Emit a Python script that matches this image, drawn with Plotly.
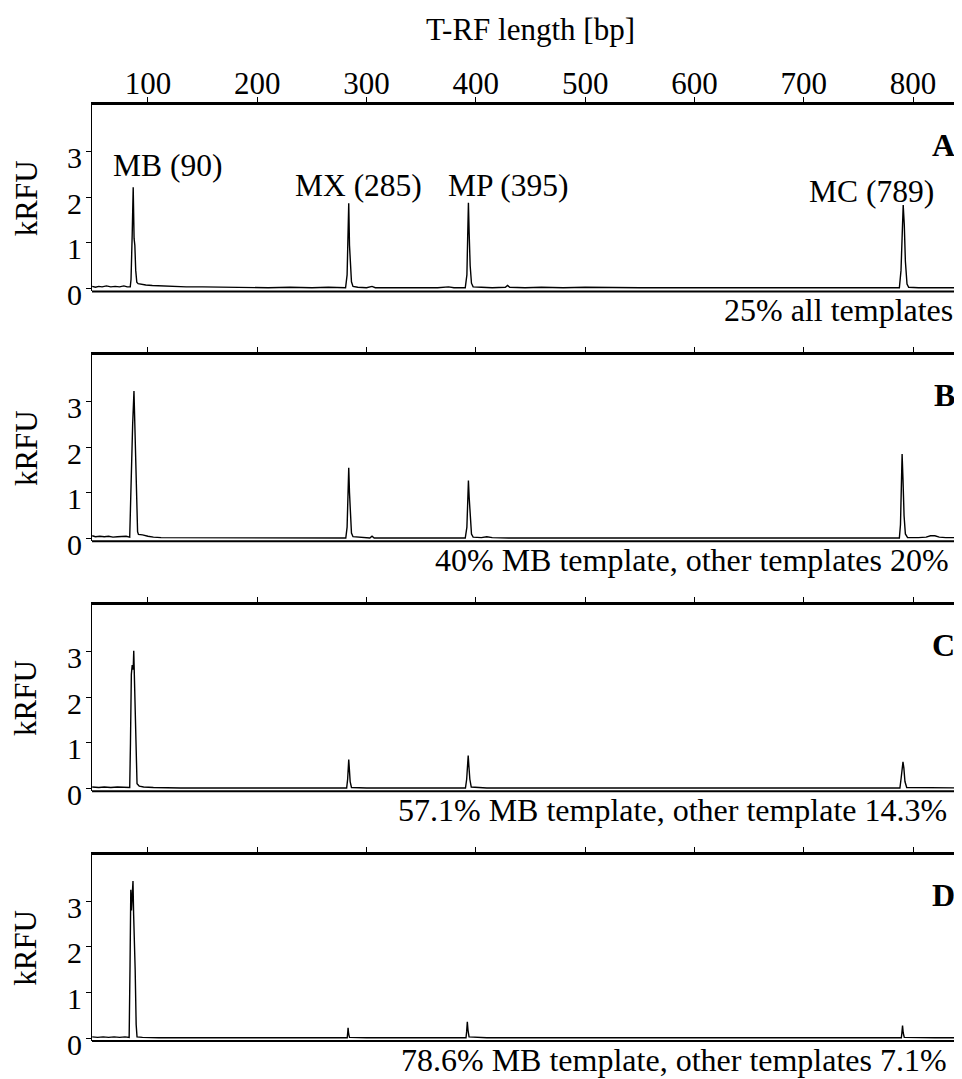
import plotly.graph_objects as go
from plotly.subplots import make_subplots

# ---------------- data ----------------
panel_letters = ["A", "B", "C", "D"]
panel_notes = ["25% all templates",
               "40% MB template, other templates 20%",
               "57.1% MB template, other template 14.3%",
               "78.6% MB template, other templates 7.1%"]
peak_names = ["MB (90)", "MX (285)", "MP (395)", "MC (789)"]
peak_label_bp = [117.8, 292.4, 429.0, 762.3]
peak_label_kRFU = [2.70, 2.26, 2.26, 2.12]

x_ticks = [100, 200, 300, 400, 500, 600, 700, 800]
y_ticks = [0, 1, 2, 3]

a_bp = [49, 52, 55, 58, 62, 66, 70, 74, 78, 81, 83.8,
        84.5, 85.6, 86.5, 87.3, 88.0, 88.8, 89.8, 91, 94, 98, 104, 112, 122, 135, 150, 170, 190, 210, 230, 250, 265, 275, 280.8,
        282.2, 283.0, 283.7, 284.4, 285.2, 286.2, 287.6, 292, 300, 305, 308, 320, 335, 350, 365, 375, 380, 390.3,
        391.8, 392.5, 393.2, 393.9, 394.8, 396, 397.5, 405, 415, 427, 429, 431, 445, 460, 480, 500, 520, 550, 580, 610, 640, 670, 700, 730, 760, 787.5,
        789, 790, 791, 792, 793, 794.5, 796, 805, 820, 845]
a_kRFU = [0.05, 0.03, 0.05, 0.04, 0.06, 0.04, 0.05, 0.04, 0.06, 0.04, 0.04,
          0.2, 1.2, 2.22, 1.1, 0.95, 0.4, 0.14, 0.11, 0.09, 0.08, 0.07, 0.06, 0.05, 0.04, 0.04, 0.03, 0.03, 0.02, 0.03, 0.02, 0.03, 0.02, 0.02,
          0.3, 1.1, 1.87, 0.95, 0.5, 0.15, 0.05, 0.03, 0.02, 0.05, 0.02, 0.02, 0.03, 0.02, 0.02, 0.04, 0.02, 0.02,
          0.3, 1.1, 1.88, 1.2, 0.5, 0.12, 0.04, 0.03, 0.02, 0.03, 0.07, 0.03, 0.02, 0.03, 0.02, 0.03, 0.02, 0.02, 0.02, 0.02, 0.01, 0.02, 0.02, 0.01, 0.02, 0.02,
          0.4, 1.3, 1.83, 1.4, 0.6, 0.1, 0.03, 0.02, 0.02, 0.02]

b_bp = [49, 52, 56, 60, 64, 68, 72, 76, 80, 83.3,
        84.0, 84.8, 86.0, 87.2, 88.0, 88.6, 89.5, 90.5, 91.3, 95, 100, 105, 112, 130, 160, 200, 240, 270, 281,
        282.2, 283.0, 283.7, 284.4, 285.2, 286.2, 287.6, 295, 303, 305, 307, 330, 360, 380, 390.3,
        391.8, 392.5, 393.2, 393.9, 394.8, 396, 397.5, 405, 410, 415, 430, 450, 500, 550, 600, 650, 700, 750, 787.5,
        788.5, 789.3, 790.0, 790.8, 791.8, 793, 795, 805, 812, 816, 820, 824, 830, 845]
b_kRFU = [0.06, 0.04, 0.05, 0.04, 0.05, 0.03, 0.04, 0.04, 0.05, 0.03,
          0.8, 1.9, 2.5, 3.23, 2.45, 1.4, 0.6, 0.15, 0.09, 0.08, 0.05, 0.03, 0.02, 0.02, 0.01, 0.01, 0.01, 0.01, 0.01,
          0.25, 0.9, 1.55, 1.0, 0.45, 0.12, 0.04, 0.02, 0.01, 0.05, 0.01, 0.01, 0.01, 0.01, 0.01,
          0.25, 0.8, 1.27, 0.9, 0.4, 0.1, 0.03, 0.02, 0.04, 0.02, 0.01, 0.01, 0.01, 0.01, 0.01, 0.01, 0.01, 0.01, 0.01,
          0.3, 1.2, 1.85, 1.3, 0.5, 0.1, 0.02, 0.02, 0.03, 0.06, 0.06, 0.03, 0.02, 0.02]

c_bp = [49, 55, 60, 66, 72, 78, 83.3,
        84.0, 84.8, 85.6, 86.5, 87.0, 87.5, 88.2, 89.0, 90.0, 92, 96, 105, 130, 200, 281.8,
        282.7, 283.3, 283.7, 284.2, 285.0, 286.2, 300, 350, 390.5,
        391.6, 392.4, 393.0, 393.6, 394.5, 395.8, 410, 500, 600, 700, 788,
        789, 790, 790.8, 791.6, 792.6, 794.2, 820, 845]
c_kRFU = [0.03, 0.02, 0.03, 0.02, 0.03, 0.02, 0.02,
          1.0, 2.5, 2.7, 2.6, 3.01, 2.5, 1.5, 0.5, 0.1, 0.05, 0.03, 0.02, 0.01, 0.01, 0.01,
          0.2, 0.5, 0.63, 0.45, 0.15, 0.02, 0.01, 0.01, 0.01,
          0.2, 0.5, 0.72, 0.5, 0.2, 0.03, 0.01, 0.01, 0.01, 0.01, 0.01,
          0.2, 0.5, 0.58, 0.45, 0.15, 0.02, 0.01, 0.01]

d_bp = [49, 54, 59, 64, 69, 74, 79, 82.8,
        83.6, 84.3, 84.9, 85.6, 86.3, 86.9, 87.6, 88.3, 89.2, 90, 95, 110, 200, 282.3,
        282.7, 283.1, 283.6, 284.4, 300, 391,
        391.6, 392.2, 392.8, 393.8, 410, 600, 789.3,
        789.8, 790.4, 791.0, 792.0, 820, 845]
d_kRFU = [0.03, 0.02, 0.03, 0.02, 0.03, 0.02, 0.03, 0.02,
          1.6, 3.25, 2.8, 3.3, 3.44, 2.7, 1.6, 1.5, 0.3, 0.03, 0.02, 0.01, 0.01, 0.01,
          0.1, 0.23, 0.1, 0.02, 0.01, 0.01,
          0.15, 0.36, 0.18, 0.03, 0.01, 0.01, 0.01,
          0.12, 0.28, 0.12, 0.02, 0.01, 0.01]

panels_bp = [a_bp, b_bp, c_bp, d_bp]
panels_kRFU = [a_kRFU, b_kRFU, c_kRFU, d_kRFU]

# ---------------- figure ----------------
FONT = "Liberation Serif"
OFF = 8                      # page body margin
W, H = 962 - OFF, 1079 - OFF
ML, MR, MT, MB_ = 92 - OFF, 0, 105 - OFF, 37.5
plot_h = H - MT - MB_
plot_w = W - ML - MR
panel_px = 186.5
note_right = [955, 951, 949, 949]

fig = make_subplots(rows=4, cols=1, vertical_spacing=63.5 / plot_h)

for i in range(4):
    r = i + 1
    fig.add_trace(go.Scatter(x=panels_bp[i], y=panels_kRFU[i], mode="lines",
                             line=dict(color="black", width=1.4), showlegend=False,
                             hoverinfo="skip"), row=r, col=1)
    fig.update_xaxes(row=r, col=1, range=[48.8, 844.8], side="top",
                     tickvals=x_ticks, showticklabels=(i == 0),
                     ticks="outside", ticklen=5, tickwidth=1.2, tickcolor="black",
                     ticklabelstandoff=-9,
                     showline=True, linewidth=3, linecolor="black",
                     showgrid=False, zeroline=False,
                     tickfont=dict(family=FONT, size=31, color="black"))
    fig.update_yaxes(row=r, col=1, range=[-0.06, 4.02], tickvals=y_ticks,
                     showticklabels=False,
                     ticks="outside", ticklen=5, tickwidth=1, tickcolor="black",
                     showline=True, linewidth=1.2, linecolor="black",
                     showgrid=False, zeroline=False)
    xs = "x" if i == 0 else f"x{r}"
    ys = "y" if i == 0 else f"y{r}"
    # y tick labels (sit slightly below their ticks in the reference)
    for t in y_ticks:
        fig.add_annotation(text=str(t), xref="paper", yref=ys, x=(84 - 92) / plot_w, y=t,
                           yshift=-6, showarrow=False, xanchor="right", yanchor="middle",
                           font=dict(family=FONT, size=30, color="black"))
    # bottom frame line
    fig.add_shape(type="line", xref=f"{xs} domain", yref=f"{ys} domain",
                  x0=0, x1=1, y0=0, y1=0, line=dict(color="black", width=2))
    # kRFU label
    fig.add_annotation(text="kRFU", xref="paper", yref=f"{ys} domain",
                       x=(26 - 92) / plot_w, y=0.5, textangle=-90,
                       showarrow=False, xanchor="center", yanchor="middle",
                       font=dict(family=FONT, size=31, color="black"))
    # panel letter
    fig.add_annotation(text=f"<b>{panel_letters[i]}</b>", xref=f"{xs} domain", yref=f"{ys} domain",
                       x=(957 - 92) / plot_w, y=1 - 40 / panel_px,
                       showarrow=False, xanchor="right", yanchor="middle",
                       font=dict(family=FONT, size=32, color="black"))
    # note below panel
    fig.add_annotation(text=panel_notes[i], xref=f"{xs} domain", yref=f"{ys} domain",
                       x=(note_right[i] - 92) / plot_w, y=-19 / panel_px,
                       showarrow=False, xanchor="right", yanchor="middle",
                       font=dict(family=FONT, size=32, color="black"))

# peak labels in panel A
for name, px, py in zip(peak_names, peak_label_bp, peak_label_kRFU):
    fig.add_annotation(text=name, x=px, y=py, xref="x", yref="y", showarrow=False,
                       xanchor="center", yanchor="middle",
                       font=dict(family=FONT, size=31.5, color="black"))

# axis title on top
fig.add_annotation(text="T-RF length [bp]", xref="paper", yref="paper",
                   x=(530 - 92) / plot_w, y=1 + (105 - 29) / plot_h,
                   showarrow=False, xanchor="center", yanchor="middle",
                   font=dict(family=FONT, size=31, color="black"))

fig.update_layout(width=W, height=H, margin=dict(l=ML, r=MR, t=MT, b=MB_),
                  paper_bgcolor="white", plot_bgcolor="white",
                  font=dict(family=FONT, color="black"))

fig.write_html("out.html")
